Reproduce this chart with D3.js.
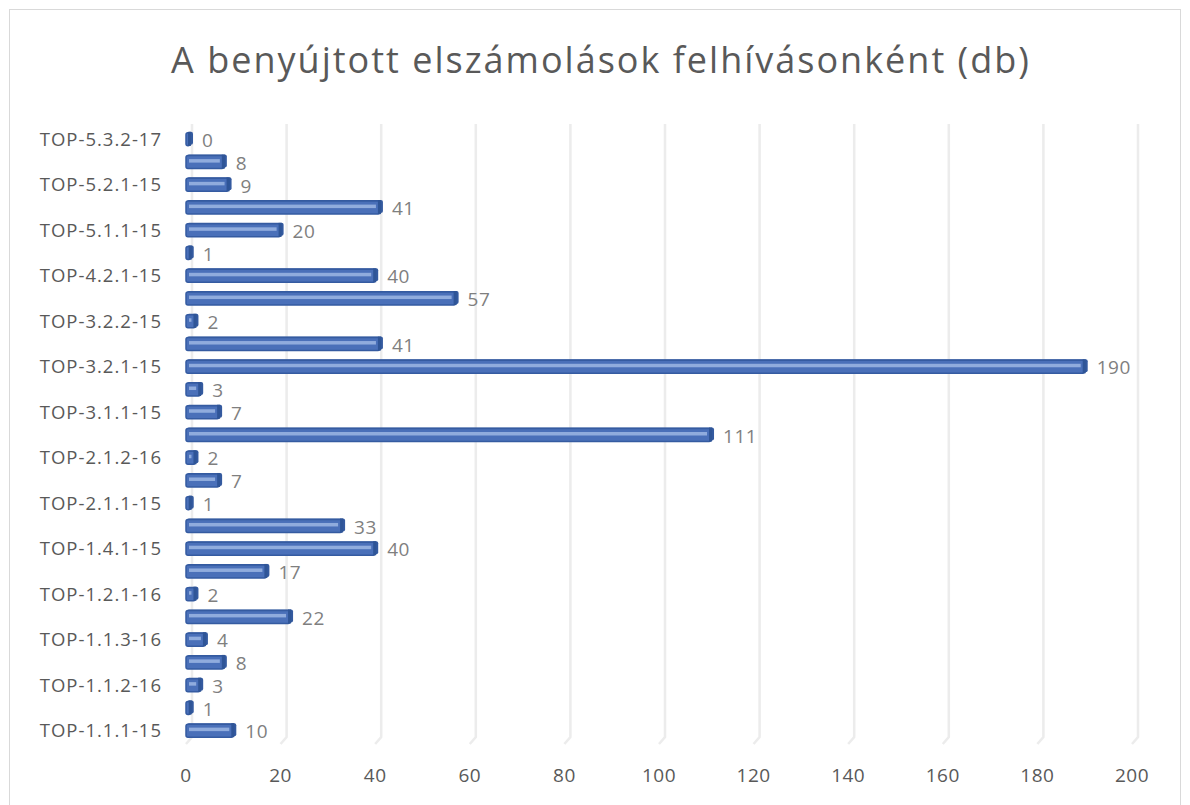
<!DOCTYPE html>
<html>
<head>
<meta charset="utf-8">
<script src="https://cdn.jsdelivr.net/npm/d3@7"></script>
<style>
  body { margin: 0; background: #fff; }
  text { font-family: "Open Sans", Lato, sans-serif; }
</style>
</head>
<body>
<svg id="chart" width="1190" height="805"></svg>
<script>
// categories bottom -> top, as in the sheet
const categories = [
  "TOP-1.1.1-15", "TOP-1.1.1-16", "TOP-1.1.2-16", "TOP-1.1.3-15", "TOP-1.1.3-16",
  "TOP-1.2.1-15", "TOP-1.2.1-16", "TOP-1.3.1-15", "TOP-1.4.1-15", "TOP-1.4.1-16",
  "TOP-2.1.1-15", "TOP-2.1.1-16", "TOP-2.1.2-16", "TOP-2.1.3-15", "TOP-3.1.1-15",
  "TOP-3.1.1-16", "TOP-3.2.1-15", "TOP-3.2.1-16", "TOP-3.2.2-15", "TOP-4.1.1-15",
  "TOP-4.2.1-15", "TOP-4.3.1-15", "TOP-5.1.1-15", "TOP-5.1.2-15", "TOP-5.2.1-15",
  "TOP-5.3.1-16", "TOP-5.3.2-17"
];
const values = [10, 1, 3, 8, 4, 22, 2, 17, 40, 33, 1, 7, 2, 111, 7, 3, 190, 41, 2, 57, 40, 1, 20, 41, 9, 8, 0];
const xTicks = [0, 20, 40, 60, 80, 100, 120, 140, 160, 180, 200];
const title = "A benyújtott elszámolások felhívásonként (db)";

const svg = d3.select("#chart");
const depth = 6; // fake 3D offset of the back wall

// chart frame
svg.append("rect")
  .attr("x", 9.5).attr("y", 9.5)
  .attr("width", 1171).attr("height", 810)
  .attr("fill", "#fff").attr("stroke", "#d9d9d9");

svg.append("text")
  .attr("x", 601).attr("y", 73)
  .attr("text-anchor", "middle")
  .attr("font-size", 36)
  .attr("letter-spacing", 2)
  .attr("fill", "#595959")
  .text(title);

const x = d3.scaleLinear().domain([0, 200]).range([186, 1132]);
const y = d3.scalePoint()
  .domain(categories.slice().reverse())
  .range([128, 742])
  .padding(0.5);

// back-wall gridlines with a little floor slant
const grid = svg.append("g");
xTicks.forEach(t => {
  const gx = x(t) + depth;
  grid.append("path")
    .attr("d", `M${gx},124 L${gx},737 L${gx - depth},744`)
    .attr("fill", "none")
    .attr("stroke", "#ececec")
    .attr("stroke-width", 2.5);
});

// x axis labels
svg.append("g")
  .selectAll("text")
  .data(xTicks)
  .join("text")
  .attr("x", d => x(d))
  .attr("y", 782)
  .attr("text-anchor", "middle")
  .attr("font-size", 19)
  .attr("letter-spacing", 0.5)
  .attr("fill", "#595959")
  .text(d => d);

// category labels, every other one like Excel does
svg.append("g")
  .selectAll("text")
  .data(categories.filter((c, i) => i % 2 === 0))
  .join("text")
  .attr("x", 162)
  .attr("y", d => y(d))
  .attr("dy", "0.35em")
  .attr("text-anchor", "end")
  .attr("font-size", 18.5)
  .attr("letter-spacing", 1)
  .attr("fill", "#595959")
  .text(d => d);

const data = categories.map((c, i) => ({ cat: c, val: values[i] }));
const bh = 13;

const bars = svg.append("g")
  .selectAll("g")
  .data(data)
  .join("g")
  .attr("transform", d => `translate(0,${y(d.cat)})`);

const barEnd = d => Math.max(x(d.val), x(0) + 4);

// back face / depth
bars.append("rect")
  .attr("x", x(0) + 1)
  .attr("y", -bh / 2 - 1)
  .attr("width", d => barEnd(d) - x(0) + 2)
  .attr("height", bh)
  .attr("rx", 2)
  .attr("fill", "#345a9f");

// front face
bars.append("rect")
  .attr("x", x(0))
  .attr("y", -bh / 2)
  .attr("width", d => barEnd(d) - x(0))
  .attr("height", bh)
  .attr("rx", 2)
  .attr("fill", "#4a70b9")
  .attr("stroke", "#355ba1")
  .attr("stroke-width", 1.5);

// highlight stripe
bars.append("rect")
  .attr("x", x(0) + 3)
  .attr("y", -3)
  .attr("width", d => Math.max(barEnd(d) - x(0) - 7, 1))
  .attr("height", 3.5)
  .attr("fill", "#90acdd");

// end cap
bars.append("rect")
  .attr("x", d => barEnd(d) - 2)
  .attr("y", -bh / 2 - 1)
  .attr("width", 3)
  .attr("height", bh + 1)
  .attr("fill", "#2f5597");

// value labels
bars.append("text")
  .attr("x", d => barEnd(d) + 12)
  .attr("y", 1)
  .attr("dy", "0.35em")
  .attr("font-size", 19)
  .attr("letter-spacing", 0.5)
  .attr("fill", "#7f7f7f")
  .text(d => d.val);
</script>
</body>
</html>
